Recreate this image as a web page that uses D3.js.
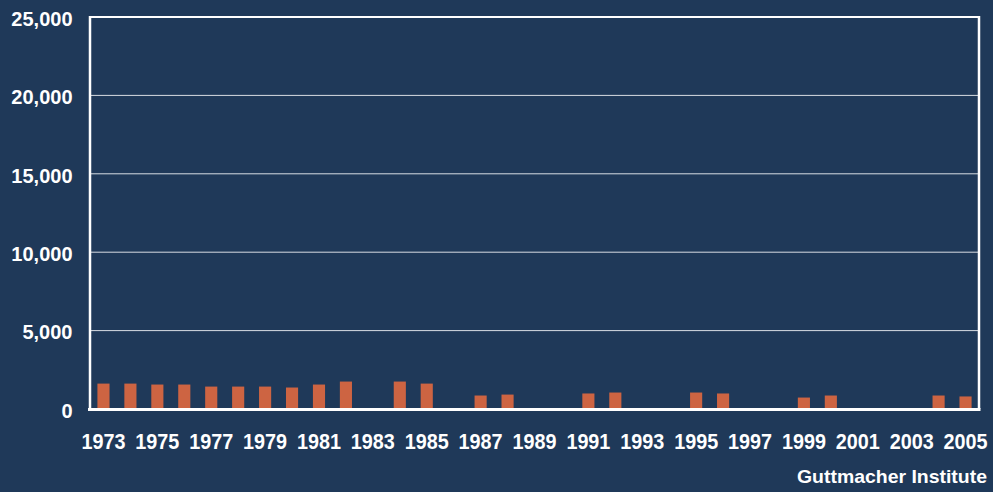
<!DOCTYPE html>
<html>
<head>
<meta charset="utf-8">
<script src="https://cdn.jsdelivr.net/npm/d3@7"></script>
<style>
  html, body { margin: 0; padding: 0; background: #1f3959; }
  svg { display: block; }
  text { font-family: "Liberation Sans", Arial, sans-serif; font-weight: bold; fill: #ffffff; }
</style>
</head>
<body>
<svg id="chart" width="993" height="492"></svg>
<script>
// Years shown on the category axis
const years = d3.range(1973, 2006).map(String);
// Annual counts; null where no figure is reported
const counts = [1620, 1620, 1560, 1560, 1430, 1430, 1430, 1370, 1560, 1750,
                null, 1750, 1620, null, 860, 920, null, null, 990, 1050,
                null, null, 1050, 990, null, null, 730, 860, null, null,
                null, 860, 800];
// Value-axis ticks
const yTicks = [0, 5000, 10000, 15000, 20000, 25000];
// Every other year is labelled
const xTickLabels = years.filter((y, i) => i % 2 === 0);

const W = 993, H = 492;
const m = { left: 90, right: 14, top: 17, bottom: 83 };
const svg = d3.select("#chart");
svg.append("rect").attr("width", W).attr("height", H).attr("fill", "#1f3959");

const x = d3.scaleBand().domain(years).range([m.left, W - m.right]).paddingInner(0.55).paddingOuter(0.275);
const y = d3.scaleLinear().domain([0, 25000]).range([H - m.bottom, m.top]);

const data = years.map((yr, i) => ({ year: yr, value: counts[i] })).filter(d => d.value != null);

// Horizontal gridlines
svg.append("g")
  .selectAll("line").data(yTicks.filter(t => t > 0 && t < 25000)).join("line")
  .attr("x1", m.left).attr("x2", W - m.right)
  .attr("y1", d => y(d)).attr("y2", d => y(d))
  .attr("stroke", "#d8dde4").attr("stroke-width", 1);

// Bars
svg.append("g")
  .selectAll("rect").data(data).join("rect")
  .attr("x", d => x(d.year))
  .attr("width", x.bandwidth())
  .attr("y", d => y(d.value))
  .attr("height", d => y(0) - y(d.value))
  .attr("fill", "#cd6442");

// Plot frame
svg.append("line").attr("x1", m.left).attr("x2", W - m.right).attr("y1", m.top).attr("y2", m.top)
  .attr("stroke", "#fff").attr("stroke-width", 2);
svg.append("line").attr("x1", m.left).attr("x2", m.left).attr("y1", m.top - 1).attr("y2", y(0))
  .attr("stroke", "#fff").attr("stroke-width", 2.5);
svg.append("line").attr("x1", W - m.right).attr("x2", W - m.right).attr("y1", m.top - 1).attr("y2", y(0))
  .attr("stroke", "#fff").attr("stroke-width", 2.5);
svg.append("line").attr("x1", m.left - 2).attr("x2", W - m.right + 1.5).attr("y1", y(0) + 0.5).attr("y2", y(0) + 0.5)
  .attr("stroke", "#fff").attr("stroke-width", 3);

// Value axis labels
const yAxis = d3.axisLeft(y).tickValues(yTicks).tickFormat(d3.format(",")).tickSize(0).tickPadding(17.5);
const gy = svg.append("g").attr("transform", `translate(${m.left},0)`).call(yAxis);
gy.select(".domain").remove();
gy.selectAll("text").attr("font-size", 20).attr("fill", "#fff").attr("dy", "0.41em")
  .style("font-family", '"Liberation Sans", Arial, sans-serif').style("font-weight", "bold");

// Year labels
const xAxis = d3.axisBottom(x).tickValues(xTickLabels).tickSize(0).tickPadding(24);
const gx = svg.append("g").attr("transform", `translate(0,${y(0)})`).call(xAxis);
gx.select(".domain").remove();
gx.selectAll("text").attr("font-size", 21.5).attr("fill", "#fff")
  .attr("y", 40).attr("dy", 0)
  .attr("textLength", 44).attr("lengthAdjust", "spacingAndGlyphs")
  .style("font-family", '"Liberation Sans", Arial, sans-serif').style("font-weight", "bold");

// Source credit
svg.append("text").attr("x", 987).attr("y", 483).attr("text-anchor", "end")
  .attr("font-size", 19).attr("textLength", 190).attr("lengthAdjust", "spacingAndGlyphs")
  .text("Guttmacher Institute");
</script>
</body>
</html>
